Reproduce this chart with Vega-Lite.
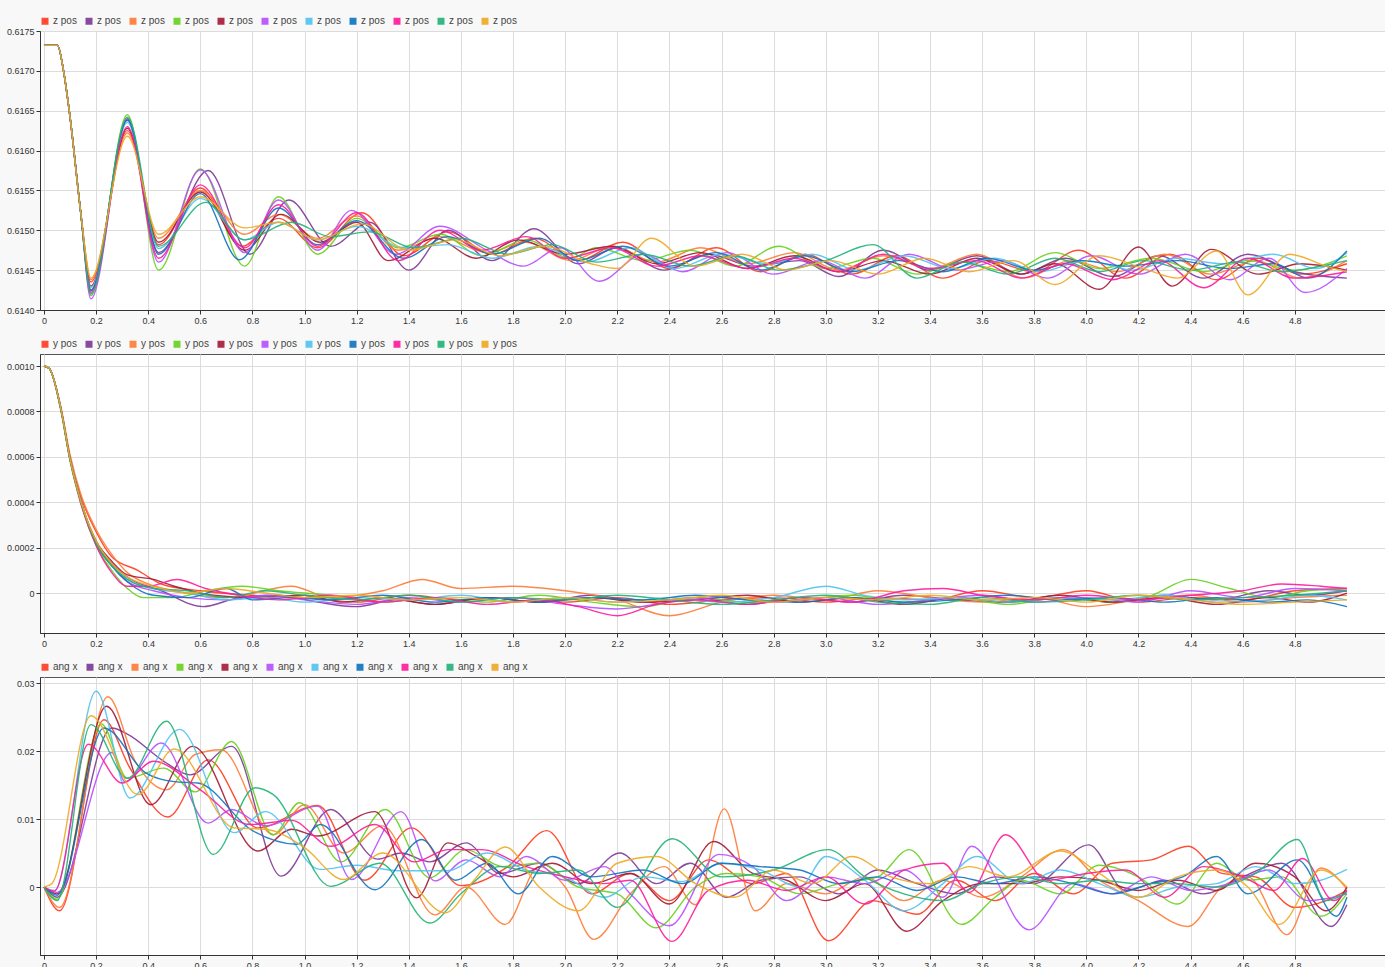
{
"$schema": "https://vega.github.io/schema/vega-lite/v6.json",
"background": "#f8f8f8",
"padding": {"left": 5, "top": 15, "right": 0, "bottom": 0},
"spacing": 12,
"config": {
  "font": "Liberation Sans",
  "view": {"fill": "white", "stroke": "#555", "strokeWidth": 1},
  "axis": {"labelFontSize": 9, "labelColor": "#333", "domainColor": "#333", "tickColor": "#333", "tickSize": 4, "gridColor": "#dcdcdc", "labelPadding": 2, "title": null},
  "legend": {"orient": "top", "direction": "horizontal", "symbolType": "square", "symbolSize": 9, "symbolStrokeWidth": 4, "labelFontSize": 10, "labelColor": "#444", "columnPadding": 2, "labelOffset": 3, "offset": 0, "padding": 0},
  "line": {"interpolate": "monotone"}
},
"resolve": {"scale": {"color": "independent", "x": "independent", "y": "independent"}, "legend": {"color": "independent"}},
"datasets": {
"z": [
{"s":1,"t":0,"v":0.61732},{"s":1,"t":0.052,"v":0.61732},{"s":1,"t":0.075,"v":0.617},{"s":1,"t":0.1,"v":0.61642},{"s":1,"t":0.14,"v":0.61525},{"s":1,"t":0.18,"v":0.61435},{"s":1,"t":0.32,"v":0.61625},{"s":1,"t":0.44,"v":0.61482},{"s":1,"t":0.6,"v":0.61553},{"s":1,"t":0.76,"v":0.6148},{"s":1,"t":0.9,"v":0.61515},{"s":1,"t":1.05,"v":0.61478},{"s":1,"t":1.22,"v":0.61522},{"s":1,"t":1.38,"v":0.61468},{"s":1,"t":1.55,"v":0.61498},{"s":1,"t":1.72,"v":0.6147},{"s":1,"t":1.88,"v":0.6149},{"s":1,"t":2.05,"v":0.61462},{"s":1,"t":2.22,"v":0.61485},{"s":1,"t":2.4,"v":0.61452},{"s":1,"t":2.58,"v":0.61478},{"s":1,"t":2.75,"v":0.61448},{"s":1,"t":2.92,"v":0.6147},{"s":1,"t":3.1,"v":0.61445},{"s":1,"t":3.27,"v":0.61468},{"s":1,"t":3.45,"v":0.6144},{"s":1,"t":3.62,"v":0.61462},{"s":1,"t":3.8,"v":0.61448},{"s":1,"t":3.97,"v":0.61475},{"s":1,"t":4.15,"v":0.6144},{"s":1,"t":4.32,"v":0.6147},{"s":1,"t":4.5,"v":0.61438},{"s":1,"t":4.66,"v":0.61465},{"s":1,"t":4.82,"v":0.61445},{"s":1,"t":5.0,"v":0.61458},
{"s":2,"t":0,"v":0.61732},{"s":2,"t":0.052,"v":0.61732},{"s":2,"t":0.075,"v":0.617},{"s":2,"t":0.1,"v":0.61642},{"s":2,"t":0.14,"v":0.61525},{"s":2,"t":0.18,"v":0.61424},{"s":2,"t":0.32,"v":0.6164},{"s":2,"t":0.44,"v":0.61472},{"s":2,"t":0.63,"v":0.61575},{"s":2,"t":0.79,"v":0.6147},{"s":2,"t":0.94,"v":0.61538},{"s":2,"t":1.1,"v":0.6148},{"s":2,"t":1.25,"v":0.6151},{"s":2,"t":1.4,"v":0.6145},{"s":2,"t":1.55,"v":0.615},{"s":2,"t":1.72,"v":0.61462},{"s":2,"t":1.88,"v":0.61502},{"s":2,"t":2.05,"v":0.61458},{"s":2,"t":2.2,"v":0.61478},{"s":2,"t":2.38,"v":0.6145},{"s":2,"t":2.55,"v":0.6147},{"s":2,"t":2.72,"v":0.61455},{"s":2,"t":2.9,"v":0.61462},{"s":2,"t":3.05,"v":0.61442},{"s":2,"t":3.22,"v":0.61475},{"s":2,"t":3.4,"v":0.6145},{"s":2,"t":3.58,"v":0.61468},{"s":2,"t":3.75,"v":0.61445},{"s":2,"t":3.92,"v":0.61465},{"s":2,"t":4.1,"v":0.61442},{"s":2,"t":4.28,"v":0.61468},{"s":2,"t":4.45,"v":0.6144},{"s":2,"t":4.62,"v":0.6147},{"s":2,"t":4.8,"v":0.61448},{"s":2,"t":5.0,"v":0.6144},
{"s":3,"t":0,"v":0.61732},{"s":3,"t":0.052,"v":0.61732},{"s":3,"t":0.075,"v":0.617},{"s":3,"t":0.1,"v":0.61642},{"s":3,"t":0.14,"v":0.61525},{"s":3,"t":0.18,"v":0.61438},{"s":3,"t":0.32,"v":0.61622},{"s":3,"t":0.44,"v":0.6149},{"s":3,"t":0.6,"v":0.6155},{"s":3,"t":0.77,"v":0.61495},{"s":3,"t":0.9,"v":0.6152},{"s":3,"t":1.05,"v":0.6149},{"s":3,"t":1.2,"v":0.61518},{"s":3,"t":1.36,"v":0.61475},{"s":3,"t":1.52,"v":0.61492},{"s":3,"t":1.7,"v":0.61472},{"s":3,"t":1.85,"v":0.61485},{"s":3,"t":2.02,"v":0.61462},{"s":3,"t":2.18,"v":0.6148},{"s":3,"t":2.35,"v":0.6146},{"s":3,"t":2.52,"v":0.61478},{"s":3,"t":2.7,"v":0.61458},{"s":3,"t":2.88,"v":0.61472},{"s":3,"t":3.05,"v":0.6145},{"s":3,"t":3.22,"v":0.61468},{"s":3,"t":3.4,"v":0.61452},{"s":3,"t":3.58,"v":0.6147},{"s":3,"t":3.76,"v":0.6144},{"s":3,"t":3.94,"v":0.61462},{"s":3,"t":4.12,"v":0.61448},{"s":3,"t":4.3,"v":0.6147},{"s":3,"t":4.48,"v":0.61445},{"s":3,"t":4.65,"v":0.61462},{"s":3,"t":4.82,"v":0.6144},{"s":3,"t":5.0,"v":0.61462},
{"s":4,"t":0,"v":0.61732},{"s":4,"t":0.052,"v":0.61732},{"s":4,"t":0.075,"v":0.617},{"s":4,"t":0.1,"v":0.61642},{"s":4,"t":0.14,"v":0.61525},{"s":4,"t":0.18,"v":0.61418},{"s":4,"t":0.32,"v":0.61645},{"s":4,"t":0.44,"v":0.6145},{"s":4,"t":0.6,"v":0.61577},{"s":4,"t":0.77,"v":0.61455},{"s":4,"t":0.9,"v":0.61542},{"s":4,"t":1.05,"v":0.6147},{"s":4,"t":1.2,"v":0.61515},{"s":4,"t":1.36,"v":0.61478},{"s":4,"t":1.52,"v":0.61495},{"s":4,"t":1.68,"v":0.61468},{"s":4,"t":1.85,"v":0.61488},{"s":4,"t":2.02,"v":0.61465},{"s":4,"t":2.12,"v":0.61478},{"s":4,"t":2.3,"v":0.61462},{"s":4,"t":2.48,"v":0.61475},{"s":4,"t":2.65,"v":0.61455},{"s":4,"t":2.82,"v":0.6148},{"s":4,"t":3.0,"v":0.61452},{"s":4,"t":3.18,"v":0.61465},{"s":4,"t":3.35,"v":0.61445},{"s":4,"t":3.52,"v":0.6146},{"s":4,"t":3.7,"v":0.61448},{"s":4,"t":3.88,"v":0.61472},{"s":4,"t":4.05,"v":0.61452},{"s":4,"t":4.25,"v":0.61465},{"s":4,"t":4.45,"v":0.61448},{"s":4,"t":4.62,"v":0.61462},{"s":4,"t":4.8,"v":0.6145},{"s":4,"t":5.0,"v":0.61468},
{"s":5,"t":0,"v":0.61732},{"s":5,"t":0.052,"v":0.61732},{"s":5,"t":0.075,"v":0.617},{"s":5,"t":0.1,"v":0.61642},{"s":5,"t":0.14,"v":0.61525},{"s":5,"t":0.18,"v":0.6143},{"s":5,"t":0.32,"v":0.61628},{"s":5,"t":0.44,"v":0.61485},{"s":5,"t":0.6,"v":0.61548},{"s":5,"t":0.77,"v":0.61475},{"s":5,"t":0.91,"v":0.6152},{"s":5,"t":1.06,"v":0.61485},{"s":5,"t":1.2,"v":0.6151},{"s":5,"t":1.32,"v":0.61462},{"s":5,"t":1.5,"v":0.6149},{"s":5,"t":1.66,"v":0.61465},{"s":5,"t":1.82,"v":0.61488},{"s":5,"t":2.0,"v":0.6147},{"s":5,"t":2.18,"v":0.6148},{"s":5,"t":2.35,"v":0.61458},{"s":5,"t":2.52,"v":0.61472},{"s":5,"t":2.7,"v":0.61452},{"s":5,"t":2.88,"v":0.61468},{"s":5,"t":3.05,"v":0.61448},{"s":5,"t":3.22,"v":0.61462},{"s":5,"t":3.4,"v":0.61445},{"s":5,"t":3.58,"v":0.61465},{"s":5,"t":3.75,"v":0.61445},{"s":5,"t":3.88,"v":0.61458},{"s":5,"t":4.05,"v":0.61426},{"s":5,"t":4.2,"v":0.61479},{"s":5,"t":4.33,"v":0.6143},{"s":5,"t":4.48,"v":0.61476},{"s":5,"t":4.66,"v":0.61445},{"s":5,"t":4.82,"v":0.61458},{"s":5,"t":5.0,"v":0.6145},
{"s":6,"t":0,"v":0.61732},{"s":6,"t":0.052,"v":0.61732},{"s":6,"t":0.075,"v":0.617},{"s":6,"t":0.1,"v":0.61642},{"s":6,"t":0.14,"v":0.61525},{"s":6,"t":0.18,"v":0.61414},{"s":6,"t":0.32,"v":0.61638},{"s":6,"t":0.44,"v":0.6146},{"s":6,"t":0.6,"v":0.61576},{"s":6,"t":0.77,"v":0.61472},{"s":6,"t":0.9,"v":0.61538},{"s":6,"t":1.05,"v":0.61475},{"s":6,"t":1.18,"v":0.61525},{"s":6,"t":1.35,"v":0.6147},{"s":6,"t":1.52,"v":0.61505},{"s":6,"t":1.7,"v":0.61475},{"s":6,"t":1.84,"v":0.61455},{"s":6,"t":1.98,"v":0.61478},{"s":6,"t":2.13,"v":0.61436},{"s":6,"t":2.3,"v":0.6147},{"s":6,"t":2.45,"v":0.61448},{"s":6,"t":2.62,"v":0.61472},{"s":6,"t":2.8,"v":0.61445},{"s":6,"t":2.98,"v":0.61462},{"s":6,"t":3.15,"v":0.6144},{"s":6,"t":3.32,"v":0.6147},{"s":6,"t":3.5,"v":0.6145},{"s":6,"t":3.68,"v":0.61462},{"s":6,"t":3.85,"v":0.6144},{"s":6,"t":4.02,"v":0.61468},{"s":6,"t":4.2,"v":0.61445},{"s":6,"t":4.38,"v":0.6147},{"s":6,"t":4.55,"v":0.61438},{"s":6,"t":4.7,"v":0.61465},{"s":6,"t":4.84,"v":0.61422},{"s":6,"t":5.0,"v":0.61452},
{"s":7,"t":0,"v":0.61732},{"s":7,"t":0.052,"v":0.61732},{"s":7,"t":0.075,"v":0.617},{"s":7,"t":0.1,"v":0.61642},{"s":7,"t":0.14,"v":0.61525},{"s":7,"t":0.18,"v":0.61428},{"s":7,"t":0.32,"v":0.61635},{"s":7,"t":0.44,"v":0.61477},{"s":7,"t":0.6,"v":0.6154},{"s":7,"t":0.77,"v":0.61488},{"s":7,"t":0.9,"v":0.6151},{"s":7,"t":1.05,"v":0.61488},{"s":7,"t":1.2,"v":0.61505},{"s":7,"t":1.38,"v":0.61478},{"s":7,"t":1.55,"v":0.61482},{"s":7,"t":1.72,"v":0.61465},{"s":7,"t":1.9,"v":0.6148},{"s":7,"t":2.08,"v":0.6146},{"s":7,"t":2.25,"v":0.61478},{"s":7,"t":2.42,"v":0.61452},{"s":7,"t":2.6,"v":0.6147},{"s":7,"t":2.78,"v":0.61458},{"s":7,"t":2.95,"v":0.6147},{"s":7,"t":3.12,"v":0.6145},{"s":7,"t":3.3,"v":0.61468},{"s":7,"t":3.48,"v":0.61452},{"s":7,"t":3.65,"v":0.61465},{"s":7,"t":3.82,"v":0.61448},{"s":7,"t":4.0,"v":0.61462},{"s":7,"t":4.18,"v":0.6145},{"s":7,"t":4.35,"v":0.61465},{"s":7,"t":4.52,"v":0.61458},{"s":7,"t":4.72,"v":0.6147},{"s":7,"t":4.88,"v":0.61452},{"s":7,"t":5.0,"v":0.61472},
{"s":8,"t":0,"v":0.61732},{"s":8,"t":0.052,"v":0.61732},{"s":8,"t":0.075,"v":0.617},{"s":8,"t":0.1,"v":0.61642},{"s":8,"t":0.14,"v":0.61525},{"s":8,"t":0.18,"v":0.61425},{"s":8,"t":0.32,"v":0.61638},{"s":8,"t":0.44,"v":0.6147},{"s":8,"t":0.6,"v":0.61546},{"s":8,"t":0.75,"v":0.61463},{"s":8,"t":0.9,"v":0.61528},{"s":8,"t":1.05,"v":0.61482},{"s":8,"t":1.2,"v":0.61512},{"s":8,"t":1.38,"v":0.61465},{"s":8,"t":1.55,"v":0.61492},{"s":8,"t":1.72,"v":0.6147},{"s":8,"t":1.9,"v":0.6149},{"s":8,"t":2.05,"v":0.61462},{"s":8,"t":2.22,"v":0.6148},{"s":8,"t":2.4,"v":0.61455},{"s":8,"t":2.58,"v":0.61472},{"s":8,"t":2.75,"v":0.6145},{"s":8,"t":2.92,"v":0.61468},{"s":8,"t":3.1,"v":0.61448},{"s":8,"t":3.28,"v":0.61462},{"s":8,"t":3.45,"v":0.61448},{"s":8,"t":3.62,"v":0.61465},{"s":8,"t":3.8,"v":0.6145},{"s":8,"t":3.98,"v":0.61462},{"s":8,"t":4.15,"v":0.61455},{"s":8,"t":4.35,"v":0.61462},{"s":8,"t":4.55,"v":0.61452},{"s":8,"t":4.72,"v":0.61458},{"s":8,"t":4.85,"v":0.6144},{"s":8,"t":5.0,"v":0.61474},
{"s":9,"t":0,"v":0.61732},{"s":9,"t":0.052,"v":0.61732},{"s":9,"t":0.075,"v":0.617},{"s":9,"t":0.1,"v":0.61642},{"s":9,"t":0.14,"v":0.61525},{"s":9,"t":0.18,"v":0.61422},{"s":9,"t":0.32,"v":0.6163},{"s":9,"t":0.44,"v":0.61465},{"s":9,"t":0.6,"v":0.61557},{"s":9,"t":0.77,"v":0.61478},{"s":9,"t":0.9,"v":0.61532},{"s":9,"t":1.05,"v":0.6148},{"s":9,"t":1.2,"v":0.61522},{"s":9,"t":1.36,"v":0.61462},{"s":9,"t":1.52,"v":0.615},{"s":9,"t":1.68,"v":0.61475},{"s":9,"t":1.85,"v":0.61492},{"s":9,"t":2.0,"v":0.61465},{"s":9,"t":2.18,"v":0.61478},{"s":9,"t":2.35,"v":0.61455},{"s":9,"t":2.52,"v":0.61468},{"s":9,"t":2.7,"v":0.61452},{"s":9,"t":2.88,"v":0.61465},{"s":9,"t":3.05,"v":0.61448},{"s":9,"t":3.22,"v":0.6147},{"s":9,"t":3.4,"v":0.61452},{"s":9,"t":3.58,"v":0.61462},{"s":9,"t":3.75,"v":0.6144},{"s":9,"t":3.92,"v":0.61458},{"s":9,"t":4.1,"v":0.61438},{"s":9,"t":4.28,"v":0.61462},{"s":9,"t":4.45,"v":0.61428},{"s":9,"t":4.62,"v":0.61465},{"s":9,"t":4.8,"v":0.6144},{"s":9,"t":5.0,"v":0.61448},
{"s":10,"t":0,"v":0.61732},{"s":10,"t":0.052,"v":0.61732},{"s":10,"t":0.075,"v":0.617},{"s":10,"t":0.1,"v":0.61642},{"s":10,"t":0.14,"v":0.61525},{"s":10,"t":0.18,"v":0.6142},{"s":10,"t":0.32,"v":0.61642},{"s":10,"t":0.44,"v":0.6148},{"s":10,"t":0.62,"v":0.61535},{"s":10,"t":0.77,"v":0.61488},{"s":10,"t":0.95,"v":0.6151},{"s":10,"t":1.1,"v":0.61492},{"s":10,"t":1.25,"v":0.61498},{"s":10,"t":1.42,"v":0.61478},{"s":10,"t":1.6,"v":0.6149},{"s":10,"t":1.78,"v":0.6147},{"s":10,"t":1.95,"v":0.61482},{"s":10,"t":2.12,"v":0.6146},{"s":10,"t":2.3,"v":0.6147},{"s":10,"t":2.48,"v":0.61455},{"s":10,"t":2.65,"v":0.61468},{"s":10,"t":2.82,"v":0.6145},{"s":10,"t":3.0,"v":0.61462},{"s":10,"t":3.18,"v":0.61482},{"s":10,"t":3.35,"v":0.6144},{"s":10,"t":3.52,"v":0.6146},{"s":10,"t":3.7,"v":0.61445},{"s":10,"t":3.88,"v":0.61465},{"s":10,"t":4.05,"v":0.61448},{"s":10,"t":4.22,"v":0.61462},{"s":10,"t":4.4,"v":0.6145},{"s":10,"t":4.58,"v":0.6146},{"s":10,"t":4.75,"v":0.61448},{"s":10,"t":4.9,"v":0.61455},{"s":10,"t":5.0,"v":0.61462},
{"s":11,"t":0,"v":0.61732},{"s":11,"t":0.052,"v":0.61732},{"s":11,"t":0.075,"v":0.617},{"s":11,"t":0.1,"v":0.61642},{"s":11,"t":0.14,"v":0.61525},{"s":11,"t":0.18,"v":0.6144},{"s":11,"t":0.32,"v":0.61618},{"s":11,"t":0.44,"v":0.61495},{"s":11,"t":0.6,"v":0.61542},{"s":11,"t":0.77,"v":0.61503},{"s":11,"t":0.9,"v":0.6151},{"s":11,"t":1.05,"v":0.61488},{"s":11,"t":1.22,"v":0.61508},{"s":11,"t":1.4,"v":0.61475},{"s":11,"t":1.58,"v":0.61488},{"s":11,"t":1.75,"v":0.61468},{"s":11,"t":1.92,"v":0.6148},{"s":11,"t":2.1,"v":0.61458},{"s":11,"t":2.2,"v":0.61452},{"s":11,"t":2.33,"v":0.6149},{"s":11,"t":2.5,"v":0.61455},{"s":11,"t":2.68,"v":0.6147},{"s":11,"t":2.85,"v":0.6145},{"s":11,"t":3.02,"v":0.61462},{"s":11,"t":3.2,"v":0.61445},{"s":11,"t":3.38,"v":0.61465},{"s":11,"t":3.55,"v":0.61448},{"s":11,"t":3.72,"v":0.61462},{"s":11,"t":3.88,"v":0.61432},{"s":11,"t":4.05,"v":0.61468},{"s":11,"t":4.22,"v":0.61452},{"s":11,"t":4.35,"v":0.6144},{"s":11,"t":4.5,"v":0.61474},{"s":11,"t":4.62,"v":0.61419},{"s":11,"t":4.78,"v":0.6147},{"s":11,"t":4.92,"v":0.61455},{"s":11,"t":5.0,"v":0.61448}
],
"y": [
{"s":1,"t":0,"v":0.001},{"s":1,"t":0.02,"v":0.00099},{"s":1,"t":0.065,"v":0.00081},{"s":1,"t":0.1,"v":0.0006},{"s":1,"t":0.14,"v":0.00043},{"s":1,"t":0.2,"v":0.00027},{"s":1,"t":0.26,"v":0.00016},{"s":1,"t":0.36,"v":0.0001},{"s":1,"t":0.45,"v":0.00004},{"s":1,"t":0.6,"v":0.00001},{"s":1,"t":0.8,"v":-0.00001},{"s":1,"t":1.0,"v":-0.00002},{"s":1,"t":1.2,"v":-0.00004},{"s":1,"t":1.4,"v":-0.00001},{"s":1,"t":1.6,"v":-0.00003},{"s":1,"t":1.8,"v":-0.00002},{"s":1,"t":2.0,"v":-0.00004},{"s":1,"t":2.2,"v":-0.00002},{"s":1,"t":2.4,"v":-0.00005},{"s":1,"t":2.6,"v":-0.00003},{"s":1,"t":2.8,"v":-0.00002},{"s":1,"t":3.0,"v":-0.00004},{"s":1,"t":3.2,"v":-0.00002},{"s":1,"t":3.4,"v":-0.00003},{"s":1,"t":3.6,"v":0.00001},{"s":1,"t":3.8,"v":-0.00002},{"s":1,"t":4.0,"v":0.00001},{"s":1,"t":4.2,"v":-0.00004},{"s":1,"t":4.4,"v":-0.00002},{"s":1,"t":4.6,"v":-0.00003},{"s":1,"t":4.8,"v":0.00001},{"s":1,"t":5.0,"v":0.00002},
{"s":2,"t":0,"v":0.001},{"s":2,"t":0.02,"v":0.00099},{"s":2,"t":0.065,"v":0.00081},{"s":2,"t":0.1,"v":0.00059},{"s":2,"t":0.14,"v":0.00041},{"s":2,"t":0.2,"v":0.00022},{"s":2,"t":0.26,"v":0.00013},{"s":2,"t":0.32,"v":0.00007},{"s":2,"t":0.45,"v":0.00001},{"s":2,"t":0.61,"v":-0.00006},{"s":2,"t":0.75,"v":-0.00002},{"s":2,"t":0.9,"v":-0.00001},{"s":2,"t":1.05,"v":-0.00004},{"s":2,"t":1.2,"v":-0.00006},{"s":2,"t":1.35,"v":-0.00003},{"s":2,"t":1.5,"v":-0.00005},{"s":2,"t":1.7,"v":-0.00002},{"s":2,"t":1.9,"v":-0.00004},{"s":2,"t":2.1,"v":-0.00001},{"s":2,"t":2.3,"v":-0.00004},{"s":2,"t":2.5,"v":-0.00002},{"s":2,"t":2.7,"v":-0.00005},{"s":2,"t":2.9,"v":-0.00002},{"s":2,"t":3.1,"v":-0.00004},{"s":2,"t":3.3,"v":-0.00001},{"s":2,"t":3.5,"v":-0.00003},{"s":2,"t":3.7,"v":-0.00004},{"s":2,"t":3.9,"v":-0.00002},{"s":2,"t":4.1,"v":-0.00004},{"s":2,"t":4.3,"v":-0.00001},{"s":2,"t":4.5,"v":-0.00003},{"s":2,"t":4.7,"v":0.00001},{"s":2,"t":4.85,"v":-0.00001},{"s":2,"t":5.0,"v":0.00001},
{"s":3,"t":0,"v":0.001},{"s":3,"t":0.02,"v":0.00099},{"s":3,"t":0.065,"v":0.00082},{"s":3,"t":0.1,"v":0.00061},{"s":3,"t":0.14,"v":0.00044},{"s":3,"t":0.2,"v":0.00028},{"s":3,"t":0.26,"v":0.00017},{"s":3,"t":0.32,"v":0.00009},{"s":3,"t":0.4,"v":0.00004},{"s":3,"t":0.5,"v":0.00001},{"s":3,"t":0.7,"v":-0.00002},{"s":3,"t":0.95,"v":0.00003},{"s":3,"t":1.1,"v":-0.00002},{"s":3,"t":1.3,"v":0.00001},{"s":3,"t":1.45,"v":0.00006},{"s":3,"t":1.6,"v":0.00002},{"s":3,"t":1.8,"v":0.00003},{"s":3,"t":2.0,"v":0.00001},{"s":3,"t":2.2,"v":-0.00003},{"s":3,"t":2.4,"v":-0.0001},{"s":3,"t":2.6,"v":-0.00004},{"s":3,"t":2.8,"v":-0.00001},{"s":3,"t":3.0,"v":-0.00003},{"s":3,"t":3.2,"v":0.00001},{"s":3,"t":3.4,"v":-0.00002},{"s":3,"t":3.6,"v":-0.00004},{"s":3,"t":3.8,"v":-0.00002},{"s":3,"t":4.0,"v":-0.00006},{"s":3,"t":4.2,"v":-0.00003},{"s":3,"t":4.4,"v":-0.00001},{"s":3,"t":4.6,"v":-0.00004},{"s":3,"t":4.8,"v":-0.00002},{"s":3,"t":5.0,"v":-0.00001},
{"s":4,"t":0,"v":0.001},{"s":4,"t":0.02,"v":0.00099},{"s":4,"t":0.065,"v":0.0008},{"s":4,"t":0.1,"v":0.00058},{"s":4,"t":0.14,"v":0.0004},{"s":4,"t":0.2,"v":0.00021},{"s":4,"t":0.26,"v":0.0001},{"s":4,"t":0.32,"v":0.00002},{"s":4,"t":0.38,"v":-0.00002},{"s":4,"t":0.5,"v":-0.00002},{"s":4,"t":0.62,"v":0.00001},{"s":4,"t":0.76,"v":0.00003},{"s":4,"t":0.9,"v":0.00001},{"s":4,"t":1.1,"v":-0.00001},{"s":4,"t":1.3,"v":-0.00004},{"s":4,"t":1.5,"v":-0.00002},{"s":4,"t":1.7,"v":-0.00004},{"s":4,"t":1.9,"v":-0.00001},{"s":4,"t":2.1,"v":-0.00004},{"s":4,"t":2.3,"v":-0.00006},{"s":4,"t":2.5,"v":-0.00002},{"s":4,"t":2.7,"v":-0.00004},{"s":4,"t":2.9,"v":-0.00003},{"s":4,"t":3.1,"v":-0.00001},{"s":4,"t":3.3,"v":-0.00004},{"s":4,"t":3.5,"v":-0.00002},{"s":4,"t":3.7,"v":-0.00005},{"s":4,"t":3.9,"v":-0.00002},{"s":4,"t":4.1,"v":-0.00004},{"s":4,"t":4.25,"v":-0.00001},{"s":4,"t":4.4,"v":0.00006},{"s":4,"t":4.55,"v":0.00002},{"s":4,"t":4.7,"v":-0.00002},{"s":4,"t":4.85,"v":0.00001},{"s":4,"t":5.0,"v":0.00002},
{"s":5,"t":0,"v":0.001},{"s":5,"t":0.02,"v":0.00099},{"s":5,"t":0.065,"v":0.00081},{"s":5,"t":0.1,"v":0.00059},{"s":5,"t":0.14,"v":0.00041},{"s":5,"t":0.2,"v":0.00023},{"s":5,"t":0.26,"v":0.00014},{"s":5,"t":0.32,"v":0.00008},{"s":5,"t":0.42,"v":0.00006},{"s":5,"t":0.5,"v":0.00003},{"s":5,"t":0.65,"v":-0.00001},{"s":5,"t":0.8,"v":-0.00002},{"s":5,"t":1.0,"v":-0.00001},{"s":5,"t":1.15,"v":-0.00004},{"s":5,"t":1.3,"v":-0.00002},{"s":5,"t":1.5,"v":-0.00005},{"s":5,"t":1.7,"v":-0.00002},{"s":5,"t":1.9,"v":-0.00004},{"s":5,"t":2.1,"v":-0.00002},{"s":5,"t":2.3,"v":-0.00004},{"s":5,"t":2.5,"v":-0.00003},{"s":5,"t":2.7,"v":-0.00001},{"s":5,"t":2.9,"v":-0.00004},{"s":5,"t":3.1,"v":-0.00002},{"s":5,"t":3.3,"v":-0.00005},{"s":5,"t":3.5,"v":-0.00002},{"s":5,"t":3.7,"v":-0.00004},{"s":5,"t":3.9,"v":-0.00001},{"s":5,"t":4.1,"v":-0.00004},{"s":5,"t":4.3,"v":-0.00002},{"s":5,"t":4.5,"v":-0.00005},{"s":5,"t":4.7,"v":-0.00002},{"s":5,"t":4.85,"v":-0.00004},{"s":5,"t":5.0,"v":0.0},
{"s":6,"t":0,"v":0.001},{"s":6,"t":0.02,"v":0.00099},{"s":6,"t":0.065,"v":0.00081},{"s":6,"t":0.1,"v":0.00059},{"s":6,"t":0.14,"v":0.00041},{"s":6,"t":0.2,"v":0.00022},{"s":6,"t":0.26,"v":0.00012},{"s":6,"t":0.32,"v":0.00005},{"s":6,"t":0.42,"v":0.00001},{"s":6,"t":0.55,"v":-0.00002},{"s":6,"t":0.7,"v":-0.00003},{"s":6,"t":0.85,"v":-0.00001},{"s":6,"t":1.0,"v":-0.00003},{"s":6,"t":1.2,"v":-0.00005},{"s":6,"t":1.4,"v":-0.00002},{"s":6,"t":1.6,"v":-0.00004},{"s":6,"t":1.8,"v":-0.00002},{"s":6,"t":2.0,"v":-0.00005},{"s":6,"t":2.2,"v":-0.00007},{"s":6,"t":2.4,"v":-0.00004},{"s":6,"t":2.6,"v":-0.00002},{"s":6,"t":2.8,"v":-0.00004},{"s":6,"t":3.0,"v":-0.00002},{"s":6,"t":3.2,"v":-0.00005},{"s":6,"t":3.4,"v":-0.00003},{"s":6,"t":3.6,"v":-0.00001},{"s":6,"t":3.8,"v":-0.00004},{"s":6,"t":4.0,"v":-0.00002},{"s":6,"t":4.2,"v":-0.00004},{"s":6,"t":4.4,"v":0.00001},{"s":6,"t":4.6,"v":-0.00002},{"s":6,"t":4.8,"v":0.00002},{"s":6,"t":5.0,"v":0.00001},
{"s":7,"t":0,"v":0.001},{"s":7,"t":0.02,"v":0.00099},{"s":7,"t":0.065,"v":0.00081},{"s":7,"t":0.1,"v":0.00059},{"s":7,"t":0.14,"v":0.00041},{"s":7,"t":0.2,"v":0.00022},{"s":7,"t":0.26,"v":0.00012},{"s":7,"t":0.32,"v":0.00006},{"s":7,"t":0.42,"v":0.00002},{"s":7,"t":0.55,"v":0.0},{"s":7,"t":0.7,"v":-0.00003},{"s":7,"t":0.85,"v":-0.00002},{"s":7,"t":1.0,"v":-0.00004},{"s":7,"t":1.2,"v":-0.00002},{"s":7,"t":1.4,"v":-0.00003},{"s":7,"t":1.6,"v":-0.00001},{"s":7,"t":1.8,"v":-0.00004},{"s":7,"t":2.0,"v":-0.00002},{"s":7,"t":2.2,"v":-0.00004},{"s":7,"t":2.4,"v":-0.00002},{"s":7,"t":2.6,"v":-0.00004},{"s":7,"t":2.8,"v":-0.00002},{"s":7,"t":3.0,"v":0.00003},{"s":7,"t":3.15,"v":-0.00001},{"s":7,"t":3.3,"v":-0.00003},{"s":7,"t":3.5,"v":-0.00002},{"s":7,"t":3.7,"v":-0.00004},{"s":7,"t":3.9,"v":-0.00002},{"s":7,"t":4.1,"v":-0.00003},{"s":7,"t":4.3,"v":-0.00001},{"s":7,"t":4.5,"v":-0.00004},{"s":7,"t":4.7,"v":-0.00003},{"s":7,"t":4.85,"v":-0.00001},{"s":7,"t":5.0,"v":-0.00003},
{"s":8,"t":0,"v":0.001},{"s":8,"t":0.02,"v":0.00099},{"s":8,"t":0.065,"v":0.00081},{"s":8,"t":0.1,"v":0.00059},{"s":8,"t":0.14,"v":0.00041},{"s":8,"t":0.2,"v":0.00022},{"s":8,"t":0.26,"v":0.00012},{"s":8,"t":0.32,"v":0.00005},{"s":8,"t":0.42,"v":-0.00001},{"s":8,"t":0.55,"v":-0.00002},{"s":8,"t":0.7,"v":0.00002},{"s":8,"t":0.8,"v":-0.00003},{"s":8,"t":0.95,"v":-0.00002},{"s":8,"t":1.1,"v":-0.00003},{"s":8,"t":1.3,"v":-0.00001},{"s":8,"t":1.5,"v":-0.00004},{"s":8,"t":1.7,"v":-0.00002},{"s":8,"t":1.9,"v":-0.00004},{"s":8,"t":2.1,"v":-0.00002},{"s":8,"t":2.3,"v":-0.00003},{"s":8,"t":2.5,"v":-0.00001},{"s":8,"t":2.7,"v":-0.00003},{"s":8,"t":2.9,"v":-0.00004},{"s":8,"t":3.1,"v":-0.00002},{"s":8,"t":3.3,"v":-0.00004},{"s":8,"t":3.5,"v":-0.00003},{"s":8,"t":3.7,"v":-0.00001},{"s":8,"t":3.9,"v":-0.00003},{"s":8,"t":4.1,"v":-0.00002},{"s":8,"t":4.3,"v":-0.00004},{"s":8,"t":4.5,"v":-0.00002},{"s":8,"t":4.7,"v":-0.00004},{"s":8,"t":4.85,"v":-0.00003},{"s":8,"t":5.0,"v":-0.00006},
{"s":9,"t":0,"v":0.001},{"s":9,"t":0.02,"v":0.00099},{"s":9,"t":0.065,"v":0.00081},{"s":9,"t":0.1,"v":0.00059},{"s":9,"t":0.14,"v":0.0004},{"s":9,"t":0.2,"v":0.00021},{"s":9,"t":0.26,"v":0.00009},{"s":9,"t":0.32,"v":0.00003},{"s":9,"t":0.4,"v":0.00003},{"s":9,"t":0.51,"v":0.00006},{"s":9,"t":0.62,"v":0.00002},{"s":9,"t":0.75,"v":-0.00001},{"s":9,"t":0.9,"v":-0.00003},{"s":9,"t":1.1,"v":-0.00001},{"s":9,"t":1.3,"v":-0.00004},{"s":9,"t":1.5,"v":-0.00002},{"s":9,"t":1.7,"v":-0.00005},{"s":9,"t":1.9,"v":-0.00003},{"s":9,"t":2.05,"v":-0.00006},{"s":9,"t":2.2,"v":-0.0001},{"s":9,"t":2.35,"v":-0.00005},{"s":9,"t":2.5,"v":-0.00003},{"s":9,"t":2.7,"v":-0.00005},{"s":9,"t":2.9,"v":-0.00002},{"s":9,"t":3.1,"v":-0.00004},{"s":9,"t":3.3,"v":0.00001},{"s":9,"t":3.45,"v":0.00002},{"s":9,"t":3.6,"v":-0.00001},{"s":9,"t":3.8,"v":-0.00003},{"s":9,"t":4.0,"v":-0.00001},{"s":9,"t":4.2,"v":-0.00003},{"s":9,"t":4.4,"v":-0.00001},{"s":9,"t":4.6,"v":0.00001},{"s":9,"t":4.75,"v":0.00004},{"s":9,"t":4.9,"v":0.00003},{"s":9,"t":5.0,"v":0.00002},
{"s":10,"t":0,"v":0.001},{"s":10,"t":0.02,"v":0.00099},{"s":10,"t":0.065,"v":0.00081},{"s":10,"t":0.1,"v":0.00059},{"s":10,"t":0.14,"v":0.00041},{"s":10,"t":0.2,"v":0.00022},{"s":10,"t":0.26,"v":0.00012},{"s":10,"t":0.32,"v":0.00006},{"s":10,"t":0.42,"v":0.00002},{"s":10,"t":0.55,"v":0.00001},{"s":10,"t":0.7,"v":-0.00002},{"s":10,"t":0.85,"v":0.00001},{"s":10,"t":1.0,"v":-0.00001},{"s":10,"t":1.2,"v":-0.00003},{"s":10,"t":1.4,"v":-0.00001},{"s":10,"t":1.6,"v":-0.00004},{"s":10,"t":1.8,"v":-0.00002},{"s":10,"t":2.0,"v":-0.00003},{"s":10,"t":2.2,"v":-0.00001},{"s":10,"t":2.4,"v":-0.00003},{"s":10,"t":2.6,"v":-0.00005},{"s":10,"t":2.8,"v":-0.00003},{"s":10,"t":3.0,"v":-0.00001},{"s":10,"t":3.2,"v":-0.00004},{"s":10,"t":3.4,"v":-0.00005},{"s":10,"t":3.6,"v":-0.00002},{"s":10,"t":3.8,"v":-0.00004},{"s":10,"t":4.0,"v":-0.00003},{"s":10,"t":4.2,"v":-0.00001},{"s":10,"t":4.4,"v":-0.00003},{"s":10,"t":4.6,"v":-0.00002},{"s":10,"t":4.8,"v":-0.00001},{"s":10,"t":5.0,"v":0.00001},
{"s":11,"t":0,"v":0.001},{"s":11,"t":0.02,"v":0.00099},{"s":11,"t":0.065,"v":0.00081},{"s":11,"t":0.1,"v":0.00059},{"s":11,"t":0.14,"v":0.00041},{"s":11,"t":0.2,"v":0.00023},{"s":11,"t":0.26,"v":0.00013},{"s":11,"t":0.32,"v":0.00007},{"s":11,"t":0.42,"v":0.00003},{"s":11,"t":0.55,"v":0.0},{"s":11,"t":0.7,"v":0.00002},{"s":11,"t":0.85,"v":0.0},{"s":11,"t":1.0,"v":-0.00002},{"s":11,"t":1.2,"v":-0.00001},{"s":11,"t":1.4,"v":-0.00003},{"s":11,"t":1.6,"v":-0.00002},{"s":11,"t":1.8,"v":-0.00004},{"s":11,"t":2.0,"v":-0.00002},{"s":11,"t":2.2,"v":-0.00004},{"s":11,"t":2.4,"v":-0.00003},{"s":11,"t":2.6,"v":-0.00001},{"s":11,"t":2.8,"v":-0.00004},{"s":11,"t":3.0,"v":-0.00002},{"s":11,"t":3.2,"v":-0.00003},{"s":11,"t":3.4,"v":-0.00001},{"s":11,"t":3.6,"v":-0.00003},{"s":11,"t":3.8,"v":-0.00002},{"s":11,"t":4.0,"v":-0.00004},{"s":11,"t":4.2,"v":-0.00001},{"s":11,"t":4.4,"v":-0.00003},{"s":11,"t":4.6,"v":-0.00005},{"s":11,"t":4.8,"v":-0.00004},{"s":11,"t":5.0,"v":-0.00003}
],
"a": [
{"s":1,"t":0,"v":0},{"s":1,"t":0.06,"v":-0.0035},{"s":1,"t":0.23,"v":0.0246},{"s":1,"t":0.33,"v":0.0175},{"s":1,"t":0.475,"v":0.0103},{"s":1,"t":0.63,"v":0.0187},{"s":1,"t":0.82,"v":0.0087},{"s":1,"t":1.05,"v":0.012},{"s":1,"t":1.23,"v":0.001},{"s":1,"t":1.41,"v":0.0087},{"s":1,"t":1.6,"v":0.0002},{"s":1,"t":1.78,"v":0.003},{"s":1,"t":1.93,"v":0.0083},{"s":1,"t":2.1,"v":-0.001},{"s":1,"t":2.25,"v":0.002},{"s":1,"t":2.4,"v":-0.002},{"s":1,"t":2.55,"v":0.004},{"s":1,"t":2.72,"v":0.0005},{"s":1,"t":2.85,"v":0.002},{"s":1,"t":3.01,"v":-0.0079},{"s":1,"t":3.18,"v":-0.002},{"s":1,"t":3.35,"v":-0.004},{"s":1,"t":3.5,"v":0.001},{"s":1,"t":3.65,"v":-0.002},{"s":1,"t":3.8,"v":0.002},{"s":1,"t":3.95,"v":-0.001},{"s":1,"t":4.1,"v":0.0035},{"s":1,"t":4.25,"v":0.004},{"s":1,"t":4.39,"v":0.006},{"s":1,"t":4.52,"v":0.002},{"s":1,"t":4.65,"v":0.0015},{"s":1,"t":4.8,"v":-0.003},{"s":1,"t":4.92,"v":-0.002},{"s":1,"t":5.0,"v":-0.0005},
{"s":2,"t":0,"v":0},{"s":2,"t":0.05,"v":-0.0015},{"s":2,"t":0.26,"v":0.0234},{"s":2,"t":0.32,"v":0.0225},{"s":2,"t":0.46,"v":0.0185},{"s":2,"t":0.56,"v":0.0165},{"s":2,"t":0.72,"v":0.0207},{"s":2,"t":0.91,"v":0.0016},{"s":2,"t":1.1,"v":0.0114},{"s":2,"t":1.28,"v":0.0041},{"s":2,"t":1.37,"v":0.005},{"s":2,"t":1.48,"v":0.0037},{"s":2,"t":1.62,"v":0.0065},{"s":2,"t":1.75,"v":0.002},{"s":2,"t":1.9,"v":0.0035},{"s":2,"t":2.05,"v":0.0005},{"s":2,"t":2.21,"v":0.005},{"s":2,"t":2.35,"v":0.0005},{"s":2,"t":2.48,"v":0.0035},{"s":2,"t":2.62,"v":-0.0015},{"s":2,"t":2.75,"v":0.001},{"s":2,"t":2.9,"v":0.0015},{"s":2,"t":3.05,"v":-0.001},{"s":2,"t":3.2,"v":0.0025},{"s":2,"t":3.35,"v":0.0005},{"s":2,"t":3.5,"v":-0.001},{"s":2,"t":3.65,"v":0.0015},{"s":2,"t":3.8,"v":0.0005},{"s":2,"t":4.01,"v":0.0062},{"s":2,"t":4.15,"v":-0.0005},{"s":2,"t":4.3,"v":0.001},{"s":2,"t":4.45,"v":-0.001},{"s":2,"t":4.6,"v":0.0015},{"s":2,"t":4.75,"v":0.0035},{"s":2,"t":4.94,"v":-0.0058},{"s":2,"t":5.0,"v":-0.0026},
{"s":3,"t":0,"v":0},{"s":3,"t":0.06,"v":-0.003},{"s":3,"t":0.245,"v":0.028},{"s":3,"t":0.35,"v":0.0185},{"s":3,"t":0.47,"v":0.0143},{"s":3,"t":0.58,"v":0.0195},{"s":3,"t":0.68,"v":0.0202},{"s":3,"t":0.88,"v":0.0077},{"s":3,"t":1.0,"v":0.0121},{"s":3,"t":1.15,"v":0.005},{"s":3,"t":1.3,"v":0.009},{"s":3,"t":1.5,"v":-0.0041},{"s":3,"t":1.62,"v":0.0},{"s":3,"t":1.77,"v":-0.0055},{"s":3,"t":1.9,"v":0.003},{"s":3,"t":2.0,"v":0.0},{"s":3,"t":2.11,"v":-0.0077},{"s":3,"t":2.25,"v":-0.001},{"s":3,"t":2.38,"v":0.003},{"s":3,"t":2.5,"v":-0.0026},{"s":3,"t":2.61,"v":0.0115},{"s":3,"t":2.73,"v":-0.0035},{"s":3,"t":2.85,"v":0.0005},{"s":3,"t":3.0,"v":-0.001},{"s":3,"t":3.15,"v":0.0015},{"s":3,"t":3.3,"v":-0.002},{"s":3,"t":3.45,"v":0.001},{"s":3,"t":3.6,"v":-0.0015},{"s":3,"t":3.75,"v":0.0015},{"s":3,"t":3.91,"v":0.0055},{"s":3,"t":4.05,"v":0.001},{"s":3,"t":4.2,"v":-0.002},{"s":3,"t":4.39,"v":-0.0058},{"s":3,"t":4.52,"v":0.0},{"s":3,"t":4.62,"v":0.0015},{"s":3,"t":4.77,"v":-0.007},{"s":3,"t":4.9,"v":0.0028},{"s":3,"t":5.0,"v":-0.0003},
{"s":4,"t":0,"v":0},{"s":4,"t":0.05,"v":-0.0018},{"s":4,"t":0.22,"v":0.024},{"s":4,"t":0.32,"v":0.016},{"s":4,"t":0.46,"v":0.0175},{"s":4,"t":0.58,"v":0.014},{"s":4,"t":0.72,"v":0.0214},{"s":4,"t":0.88,"v":0.0077},{"s":4,"t":0.98,"v":0.0124},{"s":4,"t":1.14,"v":0.0037},{"s":4,"t":1.31,"v":0.0114},{"s":4,"t":1.48,"v":0.0014},{"s":4,"t":1.62,"v":0.0055},{"s":4,"t":1.76,"v":0.003},{"s":4,"t":1.9,"v":0.0035},{"s":4,"t":2.05,"v":0.0},{"s":4,"t":2.2,"v":-0.001},{"s":4,"t":2.35,"v":-0.006},{"s":4,"t":2.5,"v":0.0},{"s":4,"t":2.62,"v":0.002},{"s":4,"t":2.75,"v":0.0015},{"s":4,"t":2.9,"v":-0.001},{"s":4,"t":3.05,"v":0.0005},{"s":4,"t":3.2,"v":0.0015},{"s":4,"t":3.32,"v":0.0055},{"s":4,"t":3.52,"v":-0.0055},{"s":4,"t":3.65,"v":-0.0015},{"s":4,"t":3.75,"v":0.001},{"s":4,"t":3.9,"v":-0.001},{"s":4,"t":4.05,"v":0.0032},{"s":4,"t":4.2,"v":0.0015},{"s":4,"t":4.35,"v":-0.0025},{"s":4,"t":4.5,"v":0.0035},{"s":4,"t":4.62,"v":0.001},{"s":4,"t":4.75,"v":0.0015},{"s":4,"t":4.9,"v":-0.0043},{"s":4,"t":5.0,"v":-0.001},
{"s":5,"t":0,"v":0},{"s":5,"t":0.05,"v":-0.001},{"s":5,"t":0.24,"v":0.0266},{"s":5,"t":0.41,"v":0.0121},{"s":5,"t":0.57,"v":0.0207},{"s":5,"t":0.82,"v":0.0053},{"s":5,"t":0.95,"v":0.0085},{"s":5,"t":1.05,"v":0.0075},{"s":5,"t":1.27,"v":0.0111},{"s":5,"t":1.43,"v":-0.0016},{"s":5,"t":1.55,"v":0.0065},{"s":5,"t":1.66,"v":0.0045},{"s":5,"t":1.8,"v":0.0015},{"s":5,"t":1.95,"v":0.0035},{"s":5,"t":2.1,"v":0.0005},{"s":5,"t":2.25,"v":0.002},{"s":5,"t":2.4,"v":-0.0025},{"s":5,"t":2.57,"v":0.0067},{"s":5,"t":2.72,"v":0.002},{"s":5,"t":2.85,"v":0.001},{"s":5,"t":3.0,"v":-0.002},{"s":5,"t":3.15,"v":0.0005},{"s":5,"t":3.31,"v":-0.0065},{"s":5,"t":3.45,"v":-0.002},{"s":5,"t":3.6,"v":0.0005},{"s":5,"t":3.75,"v":0.0005},{"s":5,"t":3.9,"v":0.0015},{"s":5,"t":4.05,"v":0.001},{"s":5,"t":4.2,"v":-0.0005},{"s":5,"t":4.35,"v":0.001},{"s":5,"t":4.5,"v":-0.0005},{"s":5,"t":4.65,"v":0.0035},{"s":5,"t":4.8,"v":0.0015},{"s":5,"t":4.92,"v":-0.0035},{"s":5,"t":5.0,"v":0.0},
{"s":6,"t":0,"v":0},{"s":6,"t":0.05,"v":-0.0008},{"s":6,"t":0.26,"v":0.0198},{"s":6,"t":0.31,"v":0.0155},{"s":6,"t":0.45,"v":0.0212},{"s":6,"t":0.63,"v":0.0094},{"s":6,"t":0.72,"v":0.0114},{"s":6,"t":0.85,"v":0.009},{"s":6,"t":1.05,"v":0.0119},{"s":6,"t":1.18,"v":0.0011},{"s":6,"t":1.37,"v":0.0111},{"s":6,"t":1.5,"v":0.0009},{"s":6,"t":1.62,"v":0.004},{"s":6,"t":1.75,"v":0.0015},{"s":6,"t":1.85,"v":0.0045},{"s":6,"t":2.0,"v":0.001},{"s":6,"t":2.15,"v":0.003},{"s":6,"t":2.25,"v":-0.001},{"s":6,"t":2.4,"v":-0.0057},{"s":6,"t":2.59,"v":0.0048},{"s":6,"t":2.72,"v":0.003},{"s":6,"t":2.85,"v":-0.002},{"s":6,"t":3.0,"v":0.0015},{"s":6,"t":3.15,"v":0.0005},{"s":6,"t":3.3,"v":0.0025},{"s":6,"t":3.45,"v":-0.0015},{"s":6,"t":3.56,"v":0.006},{"s":6,"t":3.78,"v":-0.0063},{"s":6,"t":3.95,"v":0.0005},{"s":6,"t":4.1,"v":-0.001},{"s":6,"t":4.25,"v":0.0015},{"s":6,"t":4.4,"v":-0.0005},{"s":6,"t":4.55,"v":0.0005},{"s":6,"t":4.7,"v":0.0025},{"s":6,"t":4.85,"v":-0.002},{"s":6,"t":5.0,"v":-0.001},
{"s":7,"t":0,"v":0},{"s":7,"t":0.04,"v":-0.0005},{"s":7,"t":0.2,"v":0.0288},{"s":7,"t":0.33,"v":0.0131},{"s":7,"t":0.52,"v":0.0232},{"s":7,"t":0.73,"v":0.008},{"s":7,"t":0.85,"v":0.0111},{"s":7,"t":1.06,"v":0.0026},{"s":7,"t":1.2,"v":0.0032},{"s":7,"t":1.36,"v":0.0024},{"s":7,"t":1.55,"v":0.0024},{"s":7,"t":1.7,"v":0.005},{"s":7,"t":1.85,"v":0.0025},{"s":7,"t":2.0,"v":0.0015},{"s":7,"t":2.15,"v":-0.0015},{"s":7,"t":2.3,"v":0.0015},{"s":7,"t":2.45,"v":0.0008},{"s":7,"t":2.6,"v":0.0035},{"s":7,"t":2.75,"v":0.0025},{"s":7,"t":2.9,"v":0.0},{"s":7,"t":3.0,"v":0.0045},{"s":7,"t":3.15,"v":0.001},{"s":7,"t":3.3,"v":-0.0035},{"s":7,"t":3.45,"v":0.0005},{"s":7,"t":3.58,"v":0.0045},{"s":7,"t":3.75,"v":0.0005},{"s":7,"t":3.9,"v":0.0025},{"s":7,"t":4.05,"v":0.0005},{"s":7,"t":4.2,"v":-0.0015},{"s":7,"t":4.35,"v":0.0},{"s":7,"t":4.5,"v":0.0005},{"s":7,"t":4.65,"v":0.003},{"s":7,"t":4.8,"v":0.0005},{"s":7,"t":4.9,"v":0.001},{"s":7,"t":5.0,"v":0.0026},
{"s":8,"t":0,"v":0},{"s":8,"t":0.05,"v":-0.0012},{"s":8,"t":0.23,"v":0.0234},{"s":8,"t":0.39,"v":0.0168},{"s":8,"t":0.5,"v":0.0155},{"s":8,"t":0.59,"v":0.0153},{"s":8,"t":0.8,"v":0.0083},{"s":8,"t":0.97,"v":0.0063},{"s":8,"t":1.06,"v":0.0092},{"s":8,"t":1.27,"v":-0.0004},{"s":8,"t":1.45,"v":0.007},{"s":8,"t":1.58,"v":0.001},{"s":8,"t":1.7,"v":0.0035},{"s":8,"t":1.82,"v":-0.001},{"s":8,"t":1.95,"v":0.0045},{"s":8,"t":2.1,"v":0.0015},{"s":8,"t":2.3,"v":0.0025},{"s":8,"t":2.45,"v":0.0005},{"s":8,"t":2.6,"v":0.0035},{"s":8,"t":2.75,"v":0.003},{"s":8,"t":2.9,"v":0.0025},{"s":8,"t":3.05,"v":0.0005},{"s":8,"t":3.2,"v":0.0015},{"s":8,"t":3.35,"v":-0.0005},{"s":8,"t":3.5,"v":0.0015},{"s":8,"t":3.65,"v":0.0005},{"s":8,"t":3.8,"v":0.0015},{"s":8,"t":3.95,"v":0.0005},{"s":8,"t":4.1,"v":-0.001},{"s":8,"t":4.25,"v":0.0005},{"s":8,"t":4.37,"v":0.0015},{"s":8,"t":4.5,"v":0.0045},{"s":8,"t":4.62,"v":-0.001},{"s":8,"t":4.81,"v":0.004},{"s":8,"t":4.96,"v":-0.0043},{"s":8,"t":5.0,"v":-0.0015},
{"s":9,"t":0,"v":0},{"s":9,"t":0.04,"v":-0.0006},{"s":9,"t":0.17,"v":0.021},{"s":9,"t":0.3,"v":0.0153},{"s":9,"t":0.42,"v":0.0185},{"s":9,"t":0.6,"v":0.0143},{"s":9,"t":0.79,"v":0.0092},{"s":9,"t":0.95,"v":0.0098},{"s":9,"t":1.1,"v":0.006},{"s":9,"t":1.27,"v":0.0092},{"s":9,"t":1.42,"v":0.0037},{"s":9,"t":1.55,"v":0.0055},{"s":9,"t":1.68,"v":0.0055},{"s":9,"t":1.85,"v":0.003},{"s":9,"t":2.0,"v":0.0015},{"s":9,"t":2.15,"v":0.0005},{"s":9,"t":2.25,"v":0.001},{"s":9,"t":2.41,"v":-0.008},{"s":9,"t":2.55,"v":-0.0005},{"s":9,"t":2.7,"v":0.001},{"s":9,"t":2.85,"v":-0.0005},{"s":9,"t":3.0,"v":0.0015},{"s":9,"t":3.15,"v":-0.0025},{"s":9,"t":3.3,"v":0.0025},{"s":9,"t":3.45,"v":0.0035},{"s":9,"t":3.55,"v":-0.0008},{"s":9,"t":3.69,"v":0.0077},{"s":9,"t":3.85,"v":0.001},{"s":9,"t":4.0,"v":0.002},{"s":9,"t":4.15,"v":0.0025},{"s":9,"t":4.3,"v":-0.0015},{"s":9,"t":4.45,"v":0.003},{"s":9,"t":4.6,"v":0.0015},{"s":9,"t":4.72,"v":-0.0005},{"s":9,"t":4.83,"v":0.0042},{"s":9,"t":4.95,"v":-0.002},{"s":9,"t":5.0,"v":-0.0005},
{"s":10,"t":0,"v":0},{"s":10,"t":0.05,"v":-0.002},{"s":10,"t":0.18,"v":0.0239},{"s":10,"t":0.32,"v":0.016},{"s":10,"t":0.47,"v":0.0244},{"s":10,"t":0.65,"v":0.0048},{"s":10,"t":0.81,"v":0.0146},{"s":10,"t":0.88,"v":0.0136},{"s":10,"t":1.1,"v":0.0001},{"s":10,"t":1.29,"v":0.0035},{"s":10,"t":1.48,"v":-0.0053},{"s":10,"t":1.6,"v":-0.001},{"s":10,"t":1.75,"v":0.003},{"s":10,"t":1.9,"v":0.002},{"s":10,"t":2.05,"v":0.0025},{"s":10,"t":2.2,"v":-0.003},{"s":10,"t":2.41,"v":0.0071},{"s":10,"t":2.6,"v":0.0015},{"s":10,"t":2.8,"v":0.0025},{"s":10,"t":3.01,"v":0.0055},{"s":10,"t":3.15,"v":0.0015},{"s":10,"t":3.3,"v":-0.001},{"s":10,"t":3.45,"v":-0.002},{"s":10,"t":3.6,"v":0.0005},{"s":10,"t":3.75,"v":0.0015},{"s":10,"t":3.9,"v":0.0005},{"s":10,"t":4.05,"v":0.001},{"s":10,"t":4.2,"v":0.0005},{"s":10,"t":4.35,"v":0.0005},{"s":10,"t":4.5,"v":0.0},{"s":10,"t":4.65,"v":0.002},{"s":10,"t":4.81,"v":0.007},{"s":10,"t":4.92,"v":-0.002},{"s":10,"t":5.0,"v":-0.0008},
{"s":11,"t":0,"v":0},{"s":11,"t":0.03,"v":0.0005},{"s":11,"t":0.18,"v":0.0252},{"s":11,"t":0.36,"v":0.0136},{"s":11,"t":0.5,"v":0.0203},{"s":11,"t":0.73,"v":0.0087},{"s":11,"t":0.85,"v":0.0085},{"s":11,"t":1.0,"v":0.0058},{"s":11,"t":1.15,"v":0.0011},{"s":11,"t":1.3,"v":0.005},{"s":11,"t":1.54,"v":-0.0038},{"s":11,"t":1.65,"v":0.001},{"s":11,"t":1.77,"v":0.0059},{"s":11,"t":1.9,"v":0.0},{"s":11,"t":2.05,"v":-0.0035},{"s":11,"t":2.2,"v":0.0035},{"s":11,"t":2.35,"v":0.0045},{"s":11,"t":2.5,"v":0.0005},{"s":11,"t":2.65,"v":-0.0015},{"s":11,"t":2.8,"v":0.0025},{"s":11,"t":2.95,"v":0.0005},{"s":11,"t":3.1,"v":0.0045},{"s":11,"t":3.25,"v":0.0015},{"s":11,"t":3.4,"v":0.0005},{"s":11,"t":3.55,"v":0.003},{"s":11,"t":3.7,"v":0.0015},{"s":11,"t":3.9,"v":0.0053},{"s":11,"t":4.05,"v":0.002},{"s":11,"t":4.2,"v":-0.0015},{"s":11,"t":4.35,"v":0.0015},{"s":11,"t":4.5,"v":0.0025},{"s":11,"t":4.62,"v":0.0},{"s":11,"t":4.74,"v":-0.0055},{"s":11,"t":4.9,"v":0.0025},{"s":11,"t":5.0,"v":0.0}
]
},
"vconcat": [
{
  "width": 1346, "height": 279,
  "data": {"name": "z"},
  "mark": {"type": "line", "clip": true},
  "encoding": {
    "x": {"field": "t", "type": "quantitative", "scale": {"domain": [-0.0153, 5.15], "nice": false, "zero": false},
      "axis": {"values": [0,0.2,0.4,0.6,0.8,1.0,1.2,1.4,1.6,1.8,2.0,2.2,2.4,2.6,2.8,3.0,3.2,3.4,3.6,3.8,4.0,4.2,4.4,4.6,4.8], "labelExpr": "datum.value == 0 ? '0' : format(datum.value, '.1f')"}},
    "y": {"field": "v", "type": "quantitative", "scale": {"domain": [0.614, 0.6175], "nice": false, "zero": false},
      "axis": {"values": [0.614,0.6145,0.615,0.6155,0.616,0.6165,0.617,0.6175], "format": ".4f"}},
    "color": {"field": "s", "type": "nominal",
      "scale": {"domain": [1,2,3,4,5,6,7,8,9,10,11], "range": ["#ff3b1f","#7e3796","#ff7a35","#66d11c","#a31a35","#b84dff","#4fc3f0","#0e72c0","#ff1a9c","#20b277","#f0a820"]},
      "legend": {"title": null, "labelExpr": "'z pos'"}},
    "strokeWidth": {"value": 1.4},
    "opacity": {"value": 0.9}
  }
},
{
  "width": 1346, "height": 279,
  "data": {"name": "y"},
  "mark": {"type": "line", "clip": true},
  "encoding": {
    "x": {"field": "t", "type": "quantitative", "scale": {"domain": [-0.0153, 5.15], "nice": false, "zero": false},
      "axis": {"values": [0,0.2,0.4,0.6,0.8,1.0,1.2,1.4,1.6,1.8,2.0,2.2,2.4,2.6,2.8,3.0,3.2,3.4,3.6,3.8,4.0,4.2,4.4,4.6,4.8], "labelExpr": "datum.value == 0 ? '0' : format(datum.value, '.1f')"}},
    "y": {"field": "v", "type": "quantitative", "scale": {"domain": [-0.000176, 0.001053], "nice": false, "zero": false},
      "axis": {"values": [0,0.0002,0.0004,0.0006,0.0008,0.001], "labelExpr": "datum.value == 0 ? '0' : format(datum.value, '.4f')"}},
    "color": {"field": "s", "type": "nominal",
      "scale": {"domain": [1,2,3,4,5,6,7,8,9,10,11], "range": ["#ff3b1f","#7e3796","#ff7a35","#66d11c","#a31a35","#b84dff","#4fc3f0","#0e72c0","#ff1a9c","#20b277","#f0a820"]},
      "legend": {"title": null, "labelExpr": "'y pos'"}},
    "strokeWidth": {"value": 1.4},
    "opacity": {"value": 0.9}
  }
},
{
  "width": 1346, "height": 278,
  "data": {"name": "a"},
  "mark": {"type": "line", "clip": true},
  "encoding": {
    "x": {"field": "t", "type": "quantitative", "scale": {"domain": [-0.0153, 5.15], "nice": false, "zero": false},
      "axis": {"values": [0,0.2,0.4,0.6,0.8,1.0,1.2,1.4,1.6,1.8,2.0,2.2,2.4,2.6,2.8,3.0,3.2,3.4,3.6,3.8,4.0,4.2,4.4,4.6,4.8], "labelExpr": "datum.value == 0 ? '0' : format(datum.value, '.1f')"}},
    "y": {"field": "v", "type": "quantitative", "scale": {"domain": [-0.01, 0.0309], "nice": false, "zero": false},
      "axis": {"values": [0,0.01,0.02,0.03], "labelExpr": "datum.value == 0 ? '0' : format(datum.value, '.2f')"}},
    "color": {"field": "s", "type": "nominal",
      "scale": {"domain": [1,2,3,4,5,6,7,8,9,10,11], "range": ["#ff3b1f","#7e3796","#ff7a35","#66d11c","#a31a35","#b84dff","#4fc3f0","#0e72c0","#ff1a9c","#20b277","#f0a820"]},
      "legend": {"title": null, "labelExpr": "'ang x'"}},
    "strokeWidth": {"value": 1.4},
    "opacity": {"value": 0.9}
  }
}
]
}
